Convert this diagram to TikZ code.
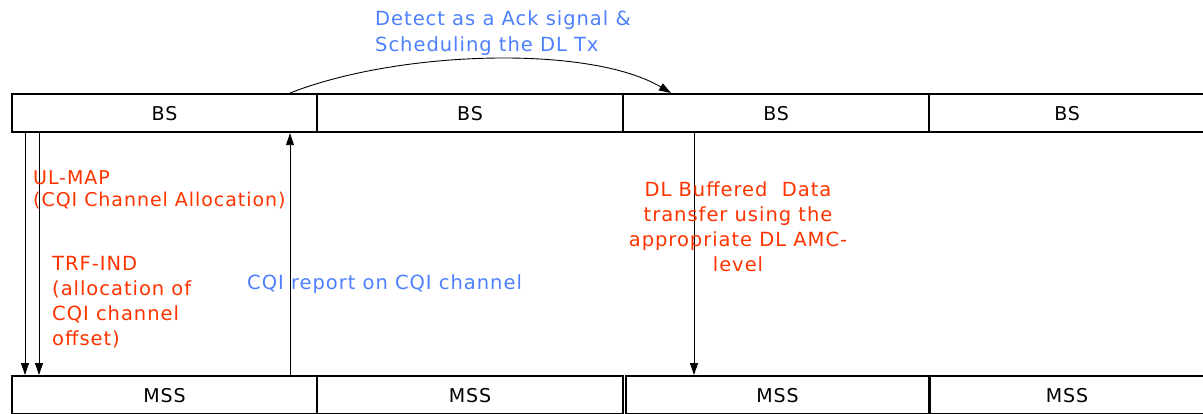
\documentclass[tikz,border=0pt]{standalone}
\usepackage{fontspec}
\setmainfont{DejaVu Sans}[LetterSpace=5]
\usetikzlibrary{arrows.meta}
\definecolor{myred}{RGB}{255,51,0}
\definecolor{myblue}{RGB}{77,128,255}
\begin{document}
\begin{tikzpicture}[x=1pt,y=-1pt,
  box/.style={draw,line width=2.2pt,minimum height=38pt,inner sep=0pt,font=\fontsize{19}{21}\selectfont},
  arr/.style={-{Triangle[length=12pt,width=8pt]},line width=0.9pt},
  redtxt/.style={text=myred,font=\fontsize{19.5}{25}\selectfont,inner sep=0pt},
  bluetxt/.style={text=myblue,font=\fontsize{19.5}{26}\selectfont,inner sep=0pt}]
\useasboundingbox (0,0) rectangle (1203,414);
% top boxes
\node[box,minimum width=305pt,anchor=north west] (b1) at (11,93) {BS};
\node[box,minimum width=306pt,anchor=north west] (b2) at (316,93) {BS};
\node[box,minimum width=306pt,anchor=north west] (b3) at (622,93) {BS};
\node[box,minimum width=276pt,anchor=north west] (b4) at (928,93) {BS};
% bottom boxes
\node[box,minimum width=305pt,anchor=north west] (m1) at (11,375) {MSS};
\node[box,minimum width=306pt,anchor=north west] (m2) at (316,375) {MSS};
\node[box,minimum width=304pt,anchor=north west] (m3) at (624.5,375) {MSS};
\node[box,minimum width=276pt,anchor=north west] (m4) at (928,375) {MSS};
% arrows
\draw[arr] (b1.south west -| 25,0) -- (m1.north west -| 25,0);
\draw[arr] (b1.south west -| 39,0) -- (m1.north west -| 39,0);
\draw[arr] (m1.north west -| 290,0) -- (b1.south west -| 290,0);
\draw[arr] (b3.south west -| 694,0) -- (m3.north west -| 694,0);
\draw[arr] (b1.north west -| 290,0) .. controls (400,50) and (590,45) .. (b3.north west -| 671,0);
% texts
\node[redtxt,anchor=north west,align=left,font=\fontsize{19}{22}\selectfont] (t1) at (33,170) {UL-MAP\\(CQI Channel Allocation)};
\node[redtxt,anchor=north west,align=left] (t2) at (52,256) {TRF-IND\\(allocation of\\CQI channel\\offset)};
\node[bluetxt,anchor=west] (t3) at (247,284) {CQI report on CQI channel};
\node[redtxt,anchor=north,align=center] (t4) at (738,181) {DL Buffered\ \ Data\\transfer using the\\appropriate DL AMC-\\level};
\node[bluetxt,anchor=north west,align=left] (t5) at (375,10) {Detect as a Ack signal \&\\Scheduling the DL Tx};
\end{tikzpicture}
\end{document}
